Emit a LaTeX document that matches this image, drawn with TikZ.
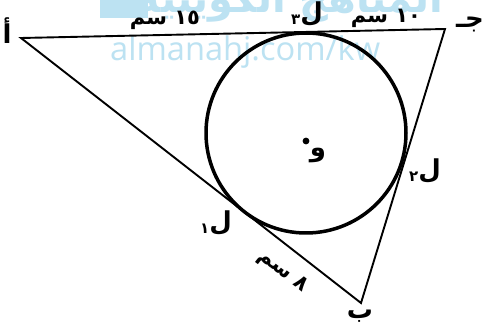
\documentclass[tikz,border=0pt]{standalone}
\usepackage{fontspec}
\setmainfont{Liberation Serif}
\newfontfamily\ar[Script=Arabic]{DejaVu Sans}
\newfontfamily\wm{Open Sans}
\TeXXeTstate=1
\definecolor{wmblue}{RGB}{188,226,242}
\tikzset{
  tri/.style={line width=1.9pt, line join=miter},
  circ/.style={line width=3.5pt},
  lab/.style={inner sep=0pt, font=\ar\bfseries\fontsize{21}{21}\selectfont},
  big/.style={inner sep=0pt, font=\ar\bfseries\fontsize{26}{26}\selectfont},
  wmark/.style={inner sep=0pt, text=wmblue}
}
\newcommand{\Lsub}[1]{\raisebox{-3pt}{\fontsize{15}{15}\selectfont #1}ل}
\begin{document}
\begin{tikzpicture}[x=1pt,y=-1pt]
\useasboundingbox (0,0) rectangle (485,331);
\clip (0,0) rectangle (485,331);
\fill[white] (0,0) rectangle (485,331);
% watermark
\fill[wmblue] (100,-5) rectangle (148,18);
\node[wmark, anchor=base, font=\ar\bfseries\fontsize{40}{40}\selectfont] (wmar) at (290,13) {\beginR المناهج الكويتية\endR};
\node[wmark, anchor=base west] (wmen) at (110,61) {\resizebox{270pt}{!}{\wm almanahj.com/kw}};
% triangle
\coordinate (A) at (21,38);
\coordinate (C) at (445,29);
\coordinate (B) at (361,303);
\draw[tri] (A) -- (C) -- (B) -- cycle;
% incircle
\coordinate (O) at (306,133);
\draw[circ] (O) circle[radius=100];
\fill (306,141) circle[radius=3.4];
% labels
\node[big] (la) at (7,31) {أ};
\node[big] (lc) at (470,24) {جـ};
\node[big] (lb) at (360,316) {ب};
\node[big] (lo) at (318,155) {و};
\node[lab] (l15) at (165,20) {\beginR ١٥ سم\endR};
\node[lab] (l10) at (386,18) {\beginR ١٠ سم\endR};
\node[big] (l3) at (307,14) {\Lsub{٣}};
\node[big] (l2) at (425,171) {\Lsub{٢}};
\node[big] (l1) at (216,223) {\Lsub{١}};
\node[lab, rotate=-38] (l8) at (283,272) {\beginR ٨ سم\endR};
\end{tikzpicture}
\end{document}
